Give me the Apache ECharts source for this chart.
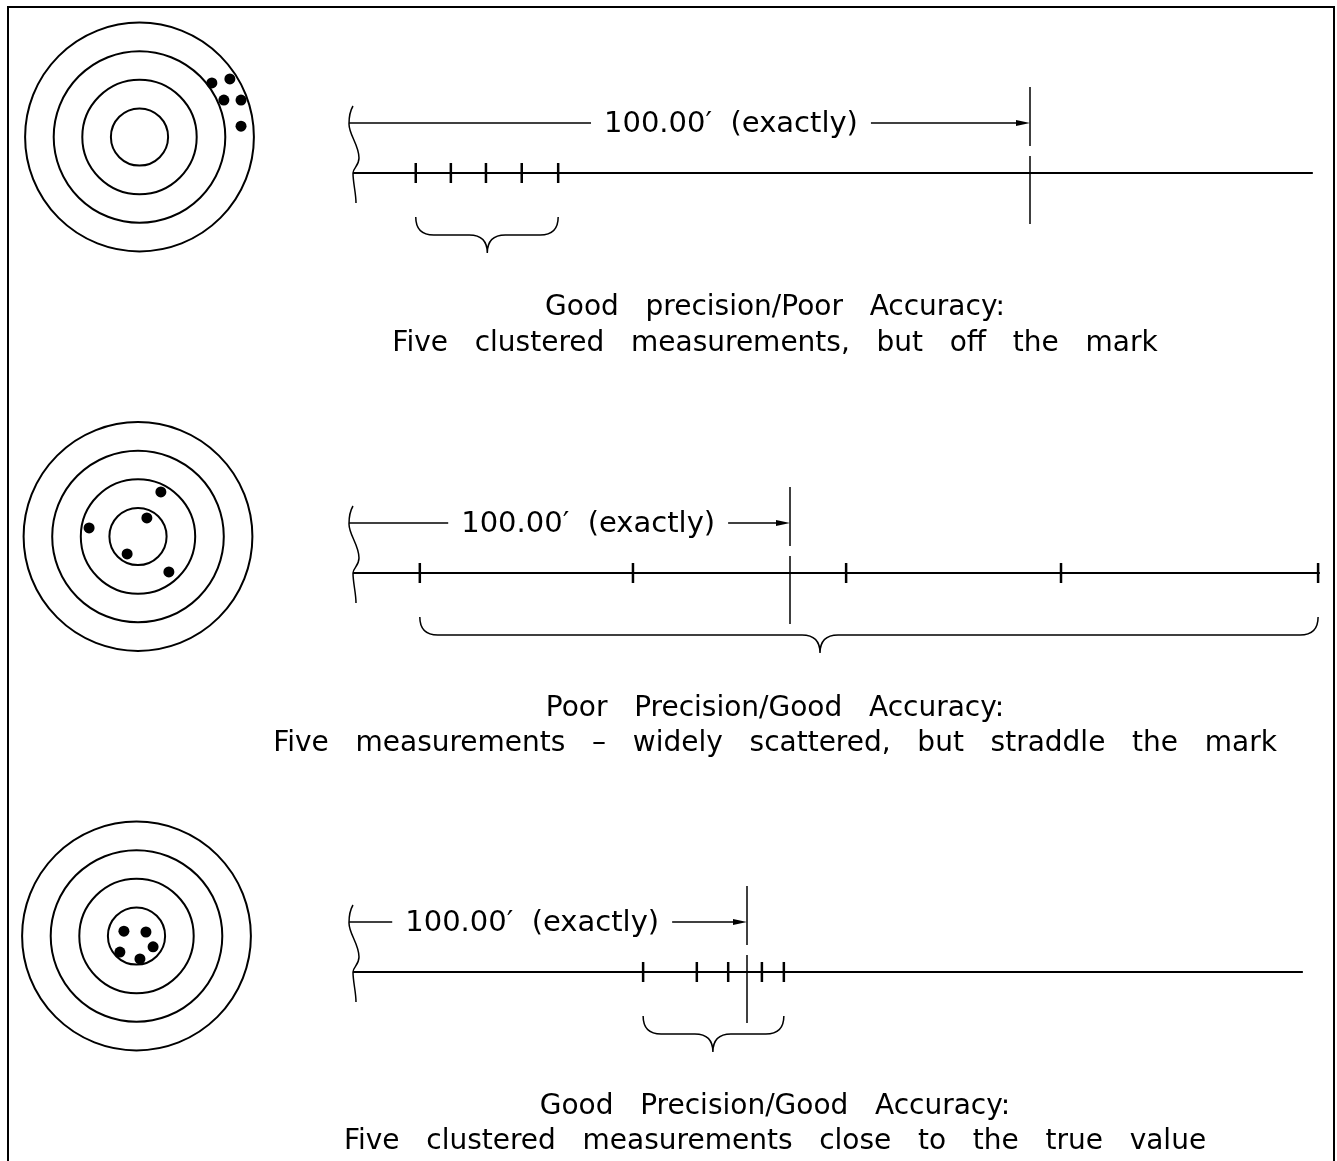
<!DOCTYPE html>
<html>
<head>
<meta charset="utf-8" />
<title>Precision and accuracy</title>
<script src="https://cdn.jsdelivr.net/npm/echarts@6/dist/echarts.min.js"></script>
<style>html, body { margin: 0; padding: 0; background: #fff; }</style>
</head>
<body>
<div id="main" style="width:1337px;height:1161px;"></div>
<script>
// rings of each target, in ring units
var ringRadii = [1, 2, 3, 4];

// where the five shots landed on each target (ring units, x right, y up)
var shotsClustered = [[2.53, 1.89], [3.16, 2.03], [2.95, 1.29], [3.55, 1.29], [3.55, 0.38]];
var shotsScattered = [[0.80, 1.56], [0.31, 0.65], [-1.71, 0.30], [-0.38, -0.61], [1.08, -1.24]];
var shotsCentered = [[-0.44, 0.17], [0.33, 0.14], [0.58, -0.38], [-0.58, -0.56], [0.12, -0.80]];

// five taped readings for each case, in feet along the line
var readsClustered = [9.0, 14.2, 19.4, 24.7, 30.1];
var readsScattered = [14.9, 63.9, 112.9, 162.3, 221.4];
var readsCentered = [73.5, 87.2, 95.2, 103.8, 109.4];

var trueLength = 100;
var lineEnds = [141.9, 221.8, 241.8];
var braceTips = [19.6, 106.9, 91.3];
var labelAt = [55.7, 53.6, 45.2];
var dimLabel = '100.00\u2032  (exactly)';

var headings = ['Good precision/Poor Accuracy:', 'Poor Precision/Good Accuracy:', 'Good Precision/Good Accuracy:'];
var notes = [
  'Five clustered measurements, but off the mark',
  'Five measurements \u2013 widely scattered, but straddle the mark',
  'Five clustered measurements close to the true value'
];

var shots = [shotsClustered, shotsScattered, shotsCentered];
var reads = [readsClustered, readsScattered, readsCentered];

// page layout (pixels)
var panels = [
  { cx: 139.5, cy: 137, markX: 1030, baseY: 173, textY: [308, 344] },
  { cx: 138, cy: 536.5, markX: 790, baseY: 573, textY: [709, 744] },
  { cx: 136.5, cy: 936, markX: 747, baseY: 972, textY: [1107, 1142] }
];
var lineLeft = 355;
var ringPx = 28.6;
var textX = 775;
var font = '"DejaVu Sans", sans-serif';

var chart = echarts.init(document.getElementById('main'));

var grids = [], xAxes = [], yAxes = [], series = [], graphics = [];

function addAxes(gi, xmin, xmax, ymin, ymax, inv) {
  xAxes.push({ type: 'value', gridIndex: gi, min: xmin, max: xmax, show: false });
  yAxes.push({ type: 'value', gridIndex: gi, min: ymin, max: ymax, inverse: inv, show: false });
}

function renderRing(params, api) {
  var c = api.coord([0, 0]);
  var r = api.size([api.value(0), 0])[0];
  return { type: 'circle', shape: { cx: c[0], cy: c[1], r: r },
    style: { fill: 'none', stroke: '#000', lineWidth: 2 } };
}

function renderBaseline(params, api) {
  var a = api.coord([api.value(0), 0]), b = api.coord([api.value(1), 0]);
  return { type: 'line', shape: { x1: a[0] - 2, y1: a[1], x2: b[0], y2: b[1] },
    style: { stroke: '#000', lineWidth: 2 } };
}

function renderTick(params, api) {
  var p = api.coord([api.value(0), 0]);
  return { type: 'line', shape: { x1: p[0], y1: p[1] - 10, x2: p[0], y2: p[1] + 10 },
    style: { stroke: '#000', lineWidth: 2.5 } };
}

function renderMark(params, api) {
  var p = api.coord([api.value(0), 0]);
  var st = { stroke: '#000', lineWidth: 1.5 };
  return { type: 'group', children: [
    { type: 'line', shape: { x1: p[0], y1: p[1] - 86, x2: p[0], y2: p[1] - 27 }, style: st },
    { type: 'line', shape: { x1: p[0], y1: p[1] - 17, x2: p[0], y2: p[1] + 51 }, style: st }
  ] };
}

function renderDim(params, api) {
  var a = api.coord([api.value(0), 0]), b = api.coord([api.value(1), 0]), m = api.coord([api.value(2), 0]);
  var y = a[1] - 50;
  return { type: 'group', children: [
    { type: 'line', shape: { x1: a[0] - 6, y1: y, x2: b[0] - 10, y2: y }, style: { stroke: '#000', lineWidth: 1.3 } },
    { type: 'polygon', shape: { points: [[b[0], y], [b[0] - 14, y - 3], [b[0] - 14, y + 3]] }, style: { fill: '#000' } },
    { type: 'text', x: m[0], y: y + 1, style: { text: dimLabel, font: '29px ' + font, fill: '#000',
      align: 'center', verticalAlign: 'middle', backgroundColor: '#fff', padding: [4, 13] } }
  ] };
}

function renderBrace(params, api) {
  var a = api.coord([api.value(0), 0]), b = api.coord([api.value(1), 0]), t = api.coord([api.value(2), 0]);
  var y0 = a[1] + 44, y1 = a[1] + 62, y2 = a[1] + 80, r = 18;
  var d = 'M' + a[0] + ' ' + y0 + ' Q' + a[0] + ' ' + y1 + ' ' + (a[0] + r) + ' ' + y1 +
    ' L' + (t[0] - r) + ' ' + y1 + ' Q' + t[0] + ' ' + y1 + ' ' + t[0] + ' ' + y2 +
    ' Q' + t[0] + ' ' + y1 + ' ' + (t[0] + r) + ' ' + y1 +
    ' L' + (b[0] - r) + ' ' + y1 + ' Q' + b[0] + ' ' + y1 + ' ' + b[0] + ' ' + y0;
  return { type: 'path', shape: { pathData: d }, style: { fill: 'none', stroke: '#000', lineWidth: 1.5 } };
}

function renderStart(params, api) {
  var p = api.coord([0, 0]);
  var x = p[0], y = p[1];
  var d = 'M' + (x - 2) + ' ' + (y - 67) +
    ' C' + (x - 5) + ' ' + (y - 62) + ' ' + (x - 6) + ' ' + (y - 56) + ' ' + (x - 6) + ' ' + (y - 49) +
    ' C' + (x - 6) + ' ' + (y - 38) + ' ' + (x + 4) + ' ' + (y - 28) + ' ' + (x + 4) + ' ' + (y - 15) +
    ' C' + (x + 4) + ' ' + (y - 7) + ' ' + (x - 2) + ' ' + (y - 5) + ' ' + (x - 2) + ' ' + y +
    ' C' + (x - 2) + ' ' + (y + 10) + ' ' + (x + 1) + ' ' + (y + 20) + ' ' + (x + 1) + ' ' + (y + 30);
  return { type: 'path', shape: { pathData: d }, style: { fill: 'none', stroke: '#000', lineWidth: 1.5 } };
}

panels.forEach(function (pn, i) {
  // target grid, ring units
  var half = 4 * ringPx;
  grids.push({ left: pn.cx - half, top: pn.cy - half, width: 2 * half, height: 2 * half });
  addAxes(i, -4, 4, -4, 4, false);
  series.push({ type: 'custom', xAxisIndex: i, yAxisIndex: i, silent: true,
    data: ringRadii.map(function (r) { return [r, 0]; }), renderItem: renderRing });
  series.push({ type: 'scatter', xAxisIndex: i, yAxisIndex: i, silent: true,
    symbol: 'circle', symbolSize: 11, itemStyle: { color: '#000', opacity: 1 }, data: shots[i] });
});

panels.forEach(function (pn, i) {
  // tape grid: x in feet, y in pixels below the line
  var gi = 3 + i;
  grids.push({ left: lineLeft, top: pn.baseY - 100, width: pn.markX - lineLeft, height: 200 });
  addAxes(gi, 0, trueLength, -100, 100, true);
  var ax = { xAxisIndex: gi, yAxisIndex: gi, type: 'custom', silent: true };
  series.push(Object.assign({ data: [[0, lineEnds[i]]], renderItem: renderBaseline }, ax));
  series.push(Object.assign({ data: [[0, 0]], renderItem: renderStart }, ax));
  series.push(Object.assign({ data: [[0, trueLength, labelAt[i]]], renderItem: renderDim }, ax));
  series.push(Object.assign({ data: [[trueLength, 0]], renderItem: renderMark }, ax));
  series.push(Object.assign({ data: reads[i].map(function (v) { return [v, 0]; }), renderItem: renderTick }, ax));
  var lo = Math.min.apply(null, reads[i]), hi = Math.max.apply(null, reads[i]);
  series.push(Object.assign({ data: [[lo, hi, braceTips[i]]], renderItem: renderBrace }, ax));

  [headings[i], notes[i]].forEach(function (txt, k) {
    graphics.push({ type: 'text', x: textX, y: pn.textY[k], silent: true,
      style: { text: txt.replace(/ /g, '   '), font: '28px ' + font, fill: '#000',
        align: 'center', verticalAlign: 'middle' } });
  });
});

// outer frame, open at the bottom as in the scan
graphics.push({ type: 'polyline', silent: true,
  shape: { points: [[8, 1170], [8, 7], [1334, 7], [1334, 1170]] },
  style: { stroke: '#000', lineWidth: 2, fill: null } });

chart.setOption({
  animation: false,
  backgroundColor: '#fff',
  grid: grids,
  xAxis: xAxes,
  yAxis: yAxes,
  series: series,
  graphic: graphics
});
</script>
</body>
</html>
